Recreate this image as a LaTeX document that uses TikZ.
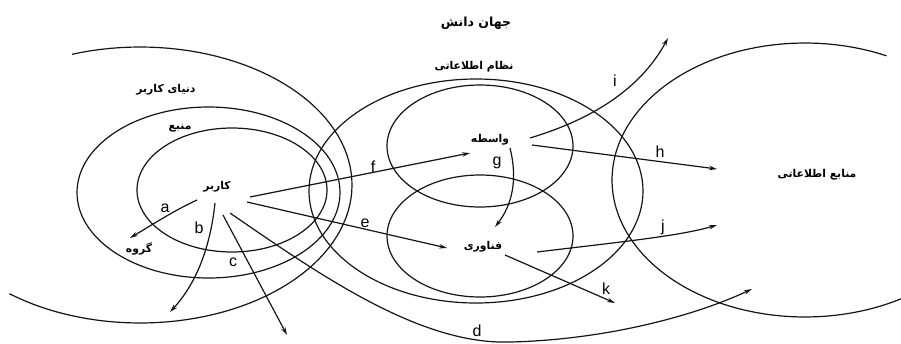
\documentclass[tikz,border=0pt]{standalone}
\usepackage{fontspec}
\setmainfont{Liberation Sans}
\newfontfamily\arabicfont[Script=Arabic]{DejaVu Sans}
\TeXXeTstate=1
\usetikzlibrary{arrows.meta}
\begin{document}
\begin{tikzpicture}[x=1pt,y=-1pt,
  ln/.style={line width=1.2pt, black!92},
  arr/.style={ln, -{Stealth[length=8pt,width=4.5pt]}},
  fa/.style={font=\arabicfont\bfseries\fontsize{10.8}{12}\selectfont, inner sep=1pt},
  lbl/.style={font=\fontsize{16}{16}\selectfont, inner sep=0pt}]
\useasboundingbox (0,0) rectangle (901,343);

% shapes
\draw[ln] plot[domain=-128:108.7, samples=90] ({140+212*cos(\x)},{185-138*sin(\x)});
\draw[ln] (208.5,192.5) ellipse [x radius=131.5, y radius=85.5];
\draw[ln] (232,190) ellipse [x radius=95, y radius=62];
\draw[ln] (476,191) ellipse [x radius=167, y radius=112];
\draw[ln] (480,146) ellipse [x radius=93, y radius=61];
\draw[ln] (480,236) ellipse [x radius=93, y radius=61];
\draw[ln] plot[domain=65:300, samples=90] ({805+193*cos(\x)},{180-137*sin(\x)});

% texts
\node[fa, font=\arabicfont\bfseries\fontsize{12.5}{14}\selectfont] (title) at (476,23) {\beginR جهان دانش\endR};
\node[fa] (info) at (474,67) {\beginR نظام اطلاعاتی\endR};
\node[fa] (world) at (166,90) {\beginR دنیای کاربر\endR};
\node[fa] (source) at (180,128) {\beginR منبع\endR};
\node[fa] (user) at (217,187) {\beginR کاربر\endR};
\node[fa] (group) at (139,249) {\beginR گروه\endR};
\node[fa] (medium) at (490,140) {\beginR واسطه\endR};
\node[fa] (tech) at (483,247) {\beginR فناوری\endR};
\node[fa] (sources) at (817,175) {\beginR منابع اطلاعاتی\endR};

% arrow end points
\coordinate (aS) at (197,200); \coordinate (aE) at (130,238);
\coordinate (bS) at (215,203); \coordinate (bE) at (170,312);
\coordinate (cS) at (223,215); \coordinate (cE) at (287,335);
\coordinate (dS) at (230,213); \coordinate (dM) at (510,342); \coordinate (dE) at (752,289);
\coordinate (eS) at (247,202); \coordinate (eE) at (447,248);
\coordinate (fS) at (250,197); \coordinate (fE) at (470,153);
\coordinate (gS) at (510,148); \coordinate (gE) at (495,227);
\coordinate (hS) at (532,145); \coordinate (hE) at (717,169);
\coordinate (iS) at (530,138); \coordinate (iE) at (668,38);
\coordinate (jS) at (537,252); \coordinate (jE) at (717,225);
\coordinate (kS) at (505,255); \coordinate (kE) at (615,303);

\draw[arr] (aS) .. controls (175,210) and (150,226) .. (aE);
\draw[arr] (bS) .. controls (210,250) and (195,285) .. (bE);
\draw[arr] (cS) -- (cE);
\draw[arr] (dS) .. controls (320,275) and (420,345) .. (dM) .. controls (600,340) and (690,318) .. (dE);
\draw[arr] (eS) -- (eE);
\draw[arr] (fS) -- (fE);
\draw[arr] (gS) .. controls (518,180) and (512,205) .. (gE);
\draw[arr] (hS) -- (hE);
\draw[arr] (iS) .. controls (590,120) and (640,90) .. (iE);
\draw[arr] (jS) .. controls (620,242) and (680,236) .. (jE);
\draw[arr] (kS) -- (kE);

% letter labels
\node[lbl] (la) at (165,208) {a};
\node[lbl] (lb) at (199,228) {b};
\node[lbl] (lc) at (233,262) {c};
\node[lbl] (ld) at (477,331) {d};
\node[lbl] (le) at (365,223) {e};
\node[lbl] (lf) at (373,167) {f};
\node[lbl] (lg) at (497,163) {g};
\node[lbl] (lh) at (660,152) {h};
\node[lbl] (li) at (615,81) {i};
\node[lbl] (lj) at (663,227) {j};
\node[lbl] (lk) at (606,289) {k};
\end{tikzpicture}
\end{document}
